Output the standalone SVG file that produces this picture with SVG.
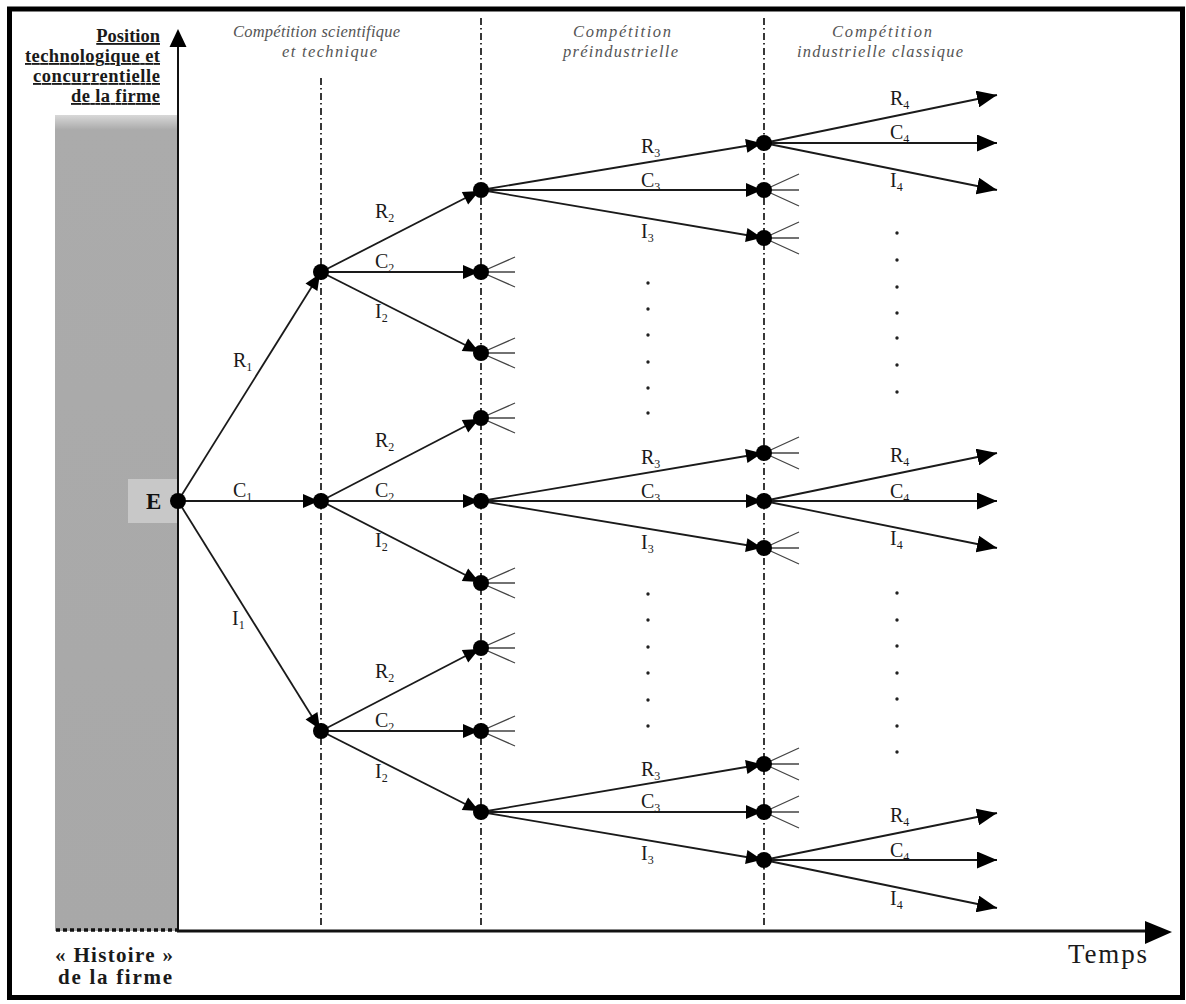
<svg xmlns="http://www.w3.org/2000/svg" width="1186" height="1004" viewBox="0 0 1186 1004">
<style>
.lbl{font-family:"Liberation Serif","Times New Roman",serif;font-size:20px;fill:#1a1a1a}
.sub{font-size:12px}
.hdr{font-family:"Liberation Serif","Times New Roman",serif;font-style:italic;font-size:16.5px;fill:#555}
.ttl{font-family:"Liberation Serif","Times New Roman",serif;font-weight:bold;font-size:18.5px;fill:#1a1a1a;text-decoration:underline}
.btm{font-family:"Liberation Serif","Times New Roman",serif;font-weight:bold;font-size:21px;fill:#1a1a1a}
.edge{stroke:#1a1a1a;stroke-width:1.8;fill:none}
.stub{stroke:#444;stroke-width:1.3;fill:none}
.phase{stroke:#222;stroke-width:1.8;stroke-dasharray:7 3 1.5 3.5;fill:none}
.node{fill:#000}
.dot{fill:#222}
</style>
<defs>
<linearGradient id="shade" x1="0" y1="0" x2="0" y2="1">
<stop offset="0" stop-color="#d8d8d8"/>
<stop offset="0.018" stop-color="#ababab"/>
<stop offset="1" stop-color="#a8a8a8"/>
</linearGradient>
<marker id="ah" viewBox="0 0 16 14" refX="18" refY="7" markerWidth="16" markerHeight="14" orient="auto" markerUnits="userSpaceOnUse" overflow="visible">
<path d="M0,0 L16,7 L0,14 z" fill="#000"/>
</marker>
<marker id="ahEnd" viewBox="0 0 20 17" refX="20" refY="8.5" markerWidth="20" markerHeight="17" orient="auto" markerUnits="userSpaceOnUse">
<path d="M0,0 L20,8.5 L0,17 z" fill="#000"/>
</marker>
</defs>
<rect width="1186" height="1004" fill="#fff"/>
<!-- frame -->
<rect x="9.5" y="9" width="1173" height="988.5" fill="none" stroke="#000" stroke-width="5"/>

<!-- history shading -->
<rect x="55" y="115" width="123" height="816" fill="url(#shade)"/>
<rect x="128" y="479" width="50" height="44" fill="#c8c8c8"/>
<line x1="56" y1="930" x2="178" y2="930" stroke="#111" stroke-width="3.5" stroke-dasharray="4 3"/>

<!-- axes -->
<g id="axes">
<line x1="178" y1="931" x2="178" y2="44" stroke="#111" stroke-width="2"/>
<polygon points="178,29 169.5,47 186.5,47" fill="#000"/>
<line x1="177" y1="931" x2="1148" y2="931" stroke="#111" stroke-width="3"/>
<polygon points="1172,932 1145,921 1145,944" fill="#000"/>
</g>

<!-- phase separators -->
<g id="phases">
<line class="phase" x1="321" y1="78" x2="321" y2="926"/>
<line class="phase" x1="481" y1="18" x2="481" y2="926"/>
<line class="phase" x1="764" y1="18" x2="764" y2="926"/>
</g>

<!-- titles -->
<g id="titles">
<text class="ttl" x="160" y="42" text-anchor="end">Position</text>
<text class="ttl" x="25" y="62" textLength="135" lengthAdjust="spacing">technologique et</text>
<text class="ttl" x="33" y="82" textLength="127" lengthAdjust="spacing">concurrentielle</text>
<text class="ttl" x="71" y="102" textLength="89" lengthAdjust="spacing">de la firme</text>
<text class="btm" x="55" y="962" textLength="118" lengthAdjust="spacing">« Histoire »</text>
<text class="btm" x="58" y="984" textLength="114" lengthAdjust="spacing">de la firme</text>
<text x="1068" y="963" font-family="Liberation Serif, Times New Roman, serif" font-size="27" fill="#1a1a1a" textLength="79" lengthAdjust="spacing">Temps</text>
<text class="hdr" x="233" y="37" textLength="167" lengthAdjust="spacing">Compétition scientifique</text>
<text class="hdr" x="282" y="57" textLength="95" lengthAdjust="spacing">et technique</text>
<text class="hdr" x="573" y="37" textLength="98" lengthAdjust="spacing">Compétition</text>
<text class="hdr" x="563" y="57" textLength="115" lengthAdjust="spacing">préindustrielle</text>
<text class="hdr" x="832" y="37" textLength="100" lengthAdjust="spacing">Compétition</text>
<text class="hdr" x="797" y="57" textLength="166" lengthAdjust="spacing">industrielle classique</text>
</g>

<!-- connectors -->
<g id="connectors">
<line class="edge" x1="178" y1="501" x2="321" y2="272" marker-end="url(#ah)"/>
<line class="edge" x1="178" y1="501" x2="321" y2="501" marker-end="url(#ah)"/>
<line class="edge" x1="178" y1="501" x2="321" y2="731" marker-end="url(#ah)"/>
<line class="edge" x1="321" y1="272" x2="481" y2="190" marker-end="url(#ah)"/>
<line class="edge" x1="321" y1="272" x2="481" y2="272" marker-end="url(#ah)"/>
<line class="edge" x1="321" y1="272" x2="481" y2="353" marker-end="url(#ah)"/>
<line class="edge" x1="321" y1="501" x2="481" y2="418" marker-end="url(#ah)"/>
<line class="edge" x1="321" y1="501" x2="481" y2="501" marker-end="url(#ah)"/>
<line class="edge" x1="321" y1="501" x2="481" y2="583" marker-end="url(#ah)"/>
<line class="edge" x1="321" y1="731" x2="481" y2="648" marker-end="url(#ah)"/>
<line class="edge" x1="321" y1="731" x2="481" y2="731" marker-end="url(#ah)"/>
<line class="edge" x1="321" y1="731" x2="481" y2="812" marker-end="url(#ah)"/>
<line class="edge" x1="481" y1="190" x2="764" y2="143" marker-end="url(#ah)"/>
<line class="edge" x1="481" y1="190" x2="764" y2="190" marker-end="url(#ah)"/>
<line class="edge" x1="481" y1="190" x2="764" y2="238" marker-end="url(#ah)"/>
<line class="edge" x1="481" y1="501" x2="764" y2="453" marker-end="url(#ah)"/>
<line class="edge" x1="481" y1="501" x2="764" y2="501" marker-end="url(#ah)"/>
<line class="edge" x1="481" y1="501" x2="764" y2="548" marker-end="url(#ah)"/>
<line class="edge" x1="481" y1="812" x2="764" y2="764" marker-end="url(#ah)"/>
<line class="edge" x1="481" y1="812" x2="764" y2="812" marker-end="url(#ah)"/>
<line class="edge" x1="481" y1="812" x2="764" y2="860" marker-end="url(#ah)"/>
<line class="edge" x1="764" y1="143" x2="997" y2="95" marker-end="url(#ahEnd)"/>
<line class="edge" x1="764" y1="143" x2="997" y2="143" marker-end="url(#ahEnd)"/>
<line class="edge" x1="764" y1="143" x2="997" y2="190" marker-end="url(#ahEnd)"/>
<line class="edge" x1="764" y1="501" x2="997" y2="453" marker-end="url(#ahEnd)"/>
<line class="edge" x1="764" y1="501" x2="997" y2="501" marker-end="url(#ahEnd)"/>
<line class="edge" x1="764" y1="501" x2="997" y2="548" marker-end="url(#ahEnd)"/>
<line class="edge" x1="764" y1="860" x2="997" y2="813" marker-end="url(#ahEnd)"/>
<line class="edge" x1="764" y1="860" x2="997" y2="860" marker-end="url(#ahEnd)"/>
<line class="edge" x1="764" y1="860" x2="997" y2="908" marker-end="url(#ahEnd)"/>
<path class="stub" d="M481,272 l34,-15 M481,272 l34,0 M481,272 l34,15"/>
<path class="stub" d="M481,353 l34,-15 M481,353 l34,0 M481,353 l34,15"/>
<path class="stub" d="M481,418 l34,-15 M481,418 l34,0 M481,418 l34,15"/>
<path class="stub" d="M481,583 l34,-15 M481,583 l34,0 M481,583 l34,15"/>
<path class="stub" d="M481,648 l34,-15 M481,648 l34,0 M481,648 l34,15"/>
<path class="stub" d="M481,731 l34,-15 M481,731 l34,0 M481,731 l34,15"/>
<path class="stub" d="M764,190 l35,-16 M764,190 l35,0 M764,190 l35,16"/>
<path class="stub" d="M764,238 l35,-16 M764,238 l35,0 M764,238 l35,16"/>
<path class="stub" d="M764,453 l35,-16 M764,453 l35,0 M764,453 l35,16"/>
<path class="stub" d="M764,548 l35,-16 M764,548 l35,0 M764,548 l35,16"/>
<path class="stub" d="M764,764 l35,-16 M764,764 l35,0 M764,764 l35,16"/>
<path class="stub" d="M764,812 l35,-16 M764,812 l35,0 M764,812 l35,16"/>
</g>

<!-- nodes -->
<g id="node-E"><circle class="node" cx="178" cy="501" r="8"/><text x="146" y="509" font-family="Liberation Serif, Times New Roman, serif" font-weight="bold" font-size="23" fill="#111">E</text></g>
<g id="node-R1"><circle class="node" cx="321" cy="272" r="8"/></g>
<g id="node-C1"><circle class="node" cx="321" cy="501" r="8"/></g>
<g id="node-I1"><circle class="node" cx="321" cy="731" r="8"/></g>
<g id="node-R1R2"><circle class="node" cx="481" cy="190" r="8"/></g>
<g id="node-R1C2"><circle class="node" cx="481" cy="272" r="8"/></g>
<g id="node-R1I2"><circle class="node" cx="481" cy="353" r="8"/></g>
<g id="node-C1R2"><circle class="node" cx="481" cy="418" r="8"/></g>
<g id="node-C1C2"><circle class="node" cx="481" cy="501" r="8"/></g>
<g id="node-C1I2"><circle class="node" cx="481" cy="583" r="8"/></g>
<g id="node-I1R2"><circle class="node" cx="481" cy="648" r="8"/></g>
<g id="node-I1C2"><circle class="node" cx="481" cy="731" r="8"/></g>
<g id="node-I1I2"><circle class="node" cx="481" cy="812" r="8"/></g>
<g id="node-a-R3"><circle class="node" cx="764" cy="143" r="8"/></g>
<g id="node-a-C3"><circle class="node" cx="764" cy="190" r="8"/></g>
<g id="node-a-I3"><circle class="node" cx="764" cy="238" r="8"/></g>
<g id="node-b-R3"><circle class="node" cx="764" cy="453" r="8"/></g>
<g id="node-b-C3"><circle class="node" cx="764" cy="501" r="8"/></g>
<g id="node-b-I3"><circle class="node" cx="764" cy="548" r="8"/></g>
<g id="node-c-R3"><circle class="node" cx="764" cy="764" r="8"/></g>
<g id="node-c-C3"><circle class="node" cx="764" cy="812" r="8"/></g>
<g id="node-c-I3"><circle class="node" cx="764" cy="860" r="8"/></g>

<!-- edge labels -->
<g id="labels">
<text class="lbl" x="233" y="367">R<tspan class="sub" dy="4">1</tspan></text>
<text class="lbl" x="233" y="497">C<tspan class="sub" dy="4">1</tspan></text>
<text class="lbl" x="232" y="625">I<tspan class="sub" dy="4">1</tspan></text>

<text class="lbl" x="375" y="218">R<tspan class="sub" dy="4">2</tspan></text>
<text class="lbl" x="375" y="268">C<tspan class="sub" dy="4">2</tspan></text>
<text class="lbl" x="375" y="318">I<tspan class="sub" dy="4">2</tspan></text>
<text class="lbl" x="375" y="447">R<tspan class="sub" dy="4">2</tspan></text>
<text class="lbl" x="375" y="497">C<tspan class="sub" dy="4">2</tspan></text>
<text class="lbl" x="375" y="547">I<tspan class="sub" dy="4">2</tspan></text>
<text class="lbl" x="375" y="678">R<tspan class="sub" dy="4">2</tspan></text>
<text class="lbl" x="375" y="727">C<tspan class="sub" dy="4">2</tspan></text>
<text class="lbl" x="375" y="778">I<tspan class="sub" dy="4">2</tspan></text>

<text class="lbl" x="641" y="153">R<tspan class="sub" dy="4">3</tspan></text>
<text class="lbl" x="641" y="187">C<tspan class="sub" dy="4">3</tspan></text>
<text class="lbl" x="641" y="238">I<tspan class="sub" dy="4">3</tspan></text>
<text class="lbl" x="641" y="464">R<tspan class="sub" dy="4">3</tspan></text>
<text class="lbl" x="641" y="498">C<tspan class="sub" dy="4">3</tspan></text>
<text class="lbl" x="641" y="549">I<tspan class="sub" dy="4">3</tspan></text>
<text class="lbl" x="641" y="776">R<tspan class="sub" dy="4">3</tspan></text>
<text class="lbl" x="641" y="808">C<tspan class="sub" dy="4">3</tspan></text>
<text class="lbl" x="641" y="860">I<tspan class="sub" dy="4">3</tspan></text>

<text class="lbl" x="890" y="105">R<tspan class="sub" dy="4">4</tspan></text>
<text class="lbl" x="890" y="139">C<tspan class="sub" dy="4">4</tspan></text>
<text class="lbl" x="890" y="187">I<tspan class="sub" dy="4">4</tspan></text>
<text class="lbl" x="890" y="462">R<tspan class="sub" dy="4">4</tspan></text>
<text class="lbl" x="890" y="498">C<tspan class="sub" dy="4">4</tspan></text>
<text class="lbl" x="890" y="545">I<tspan class="sub" dy="4">4</tspan></text>
<text class="lbl" x="890" y="822">R<tspan class="sub" dy="4">4</tspan></text>
<text class="lbl" x="890" y="857">C<tspan class="sub" dy="4">4</tspan></text>
<text class="lbl" x="890" y="905">I<tspan class="sub" dy="4">4</tspan></text>
</g>

<!-- ellipsis dots -->
<g id="ellipses">
<circle class="dot" cx="648" cy="283" r="1.7"/>
<circle class="dot" cx="648" cy="309" r="1.7"/>
<circle class="dot" cx="648" cy="335" r="1.7"/>
<circle class="dot" cx="648" cy="362" r="1.7"/>
<circle class="dot" cx="648" cy="388" r="1.7"/>
<circle class="dot" cx="648" cy="413" r="1.7"/>
<circle class="dot" cx="648" cy="594" r="1.7"/>
<circle class="dot" cx="648" cy="620" r="1.7"/>
<circle class="dot" cx="648" cy="647" r="1.7"/>
<circle class="dot" cx="648" cy="673" r="1.7"/>
<circle class="dot" cx="648" cy="700" r="1.7"/>
<circle class="dot" cx="648" cy="726" r="1.7"/>
<circle class="dot" cx="897" cy="233" r="1.7"/>
<circle class="dot" cx="897" cy="260" r="1.7"/>
<circle class="dot" cx="897" cy="287" r="1.7"/>
<circle class="dot" cx="897" cy="313" r="1.7"/>
<circle class="dot" cx="897" cy="338" r="1.7"/>
<circle class="dot" cx="897" cy="365" r="1.7"/>
<circle class="dot" cx="897" cy="392" r="1.7"/>
<circle class="dot" cx="897" cy="593" r="1.7"/>
<circle class="dot" cx="897" cy="620" r="1.7"/>
<circle class="dot" cx="897" cy="646" r="1.7"/>
<circle class="dot" cx="897" cy="673" r="1.7"/>
<circle class="dot" cx="897" cy="699" r="1.7"/>
<circle class="dot" cx="897" cy="726" r="1.7"/>
<circle class="dot" cx="897" cy="752" r="1.7"/>
</g>
</svg>
